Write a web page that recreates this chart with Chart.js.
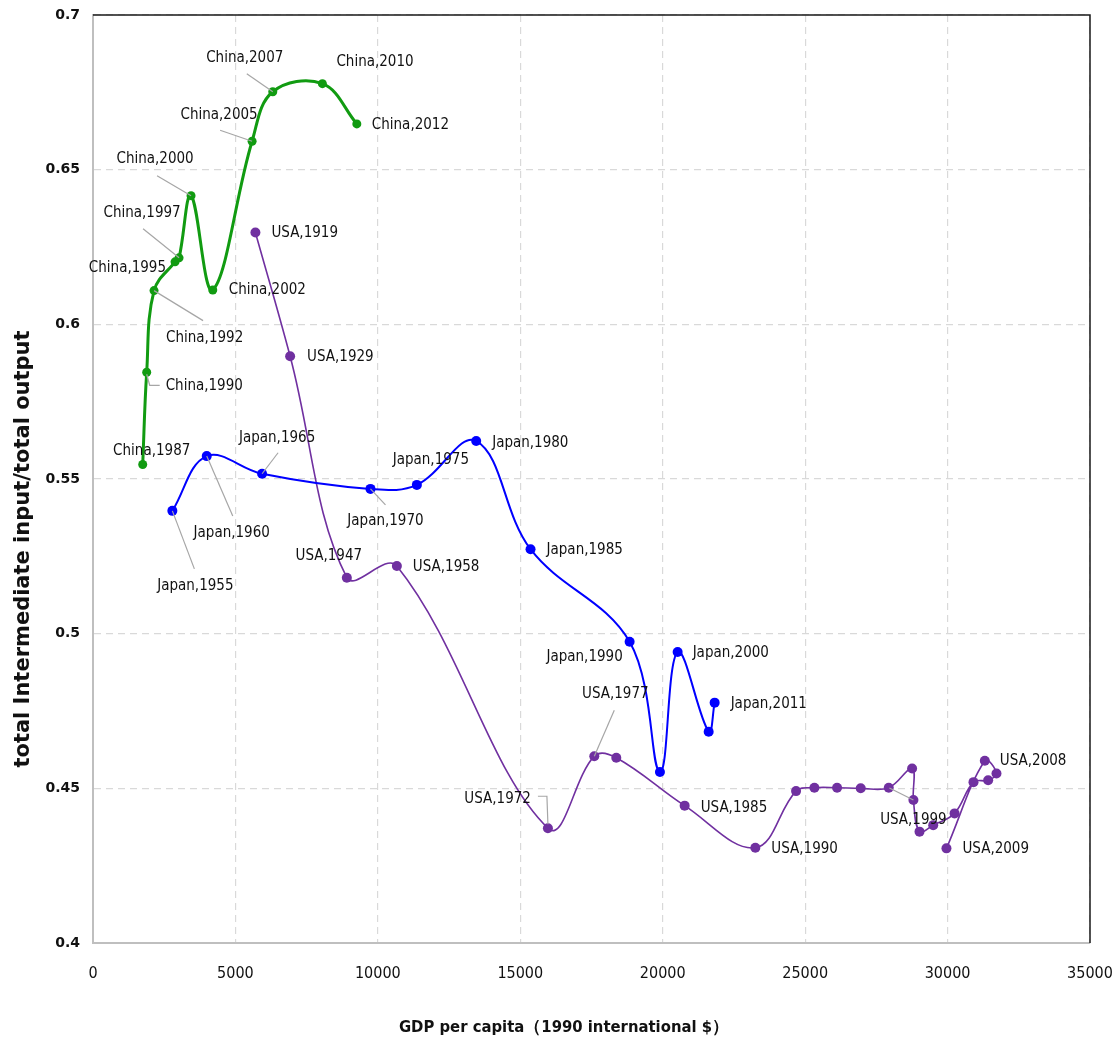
<!DOCTYPE html>
<html>
<head>
<meta charset="utf-8">
<script src="https://cdn.jsdelivr.net/npm/chart.js@4.4.1/dist/chart.umd.min.js"></script>
<style>
  html, body { margin: 0; padding: 0; background: #fff; }
</style>
</head>
<body>
<canvas id="myChart" width="1115" height="1042"></canvas>
<script>
// values: GDP per capita (1990 intl $) vs intermediate input ratio
var chinaLabels = ['1987', '1990', '1992', '1995', '1997', '2000', '2002', '2005', '2007', '2010', '2012'];
var chinaGdp = [1745, 1885, 2143, 2880, 3021, 3442, 4204, 5585, 6311, 8054, 9262];
var chinaRatio = [0.5547, 0.5845, 0.6109, 0.6202, 0.6215, 0.6416, 0.6111, 0.6592, 0.6752, 0.6778, 0.6648];

var japanLabels = ['1955', '1960', '1965', '1970', '1975', '1980', '1985', '1990', '', '2000', '', '2011'];
var japanGdp = [2786, 3993, 5936, 9741, 11369, 13452, 15360, 18838, 19903, 20524, 21613, 21823];
var japanRatio = [0.5397, 0.5574, 0.5517, 0.5468, 0.5481, 0.5623, 0.5273, 0.4974, 0.4553, 0.4941, 0.4683, 0.4777];

var usaLabels = ['1919', '1929', '1947', '1958', '1972', '1977', '', '1985', '1990', '', '', '', '', '', '', '1999',
  '', '', '', '', '', '', '2008', '2009'];
var usaGdp = [5701, 6920, 8911, 10667, 15970, 17598, 18370, 20770, 23252, 24681, 25325, 26121, 26951, 27935, 28755, 28801,
  29015, 29496, 30246, 30910, 31425, 31717, 31307, 29961];
var usaRatio = [0.6297, 0.5897, 0.5181, 0.5219, 0.4371, 0.4604, 0.4599, 0.4444, 0.4308, 0.4491, 0.4502, 0.4502, 0.4500, 0.4502, 0.4564, 0.4462,
  0.4360, 0.4381, 0.4419, 0.4520, 0.4526, 0.4548, 0.4589, 0.4306];

var xTicks = [0, 5000, 10000, 15000, 20000, 25000, 30000, 35000];
var yTicks = [0.4, 0.45, 0.5, 0.55, 0.6, 0.65, 0.7];

var xTitle = 'GDP per capita（1990 international $）';
var yTitle = 'total Intermediate input/total output';

// where each data label sits relative to its point (px), plus optional leader line
var labelPos = {
  China: {
    '1987': { dx: 9, dy: -13, align: 'center' },
    '1990': { dx: 19, dy: 14, align: 'left', leader: [[0, 2], [3, 13], [13, 13]] },
    '1992': { dx: 12, dy: 47, align: 'left', leader: [[0, 0], [49, 30]] },
    '1995': { dx: -9, dy: 6, align: 'right' },
    '1997': { dx: -37, dy: -45, align: 'center', leader: [[-36, -29], [0, 0]] },
    '2000': { dx: -36, dy: -37, align: 'center', leader: [[-34, -20], [0, 0]] },
    '2002': { dx: 16, dy: 0, align: 'left' },
    '2005': { dx: -33, dy: -26, align: 'center', leader: [[-32, -11], [0, 0]] },
    '2007': { dx: -28, dy: -34, align: 'center', leader: [[-26, -18], [0, 0]] },
    '2010': { dx: 14, dy: -22, align: 'left' },
    '2012': { dx: 15, dy: 1, align: 'left' }
  },
  Japan: {
    '1955': { dx: 23, dy: 75, align: 'center', leader: [[22, 58], [0, 0]] },
    '1960': { dx: 25, dy: 77, align: 'center', leader: [[26, 60], [0, 0]] },
    '1965': { dx: 15, dy: -36, align: 'center', leader: [[16, -21], [0, 0]] },
    '1970': { dx: 15, dy: 32, align: 'center', leader: [[15, 16], [0, 0]] },
    '1975': { dx: 14, dy: -25, align: 'center' },
    '1980': { dx: 16, dy: 2, align: 'left' },
    '1985': { dx: 16, dy: 1, align: 'left' },
    '1990': { dx: -45, dy: 15, align: 'center' },
    '2000': { dx: 15, dy: 1, align: 'left' },
    '2011': { dx: 16, dy: 1, align: 'left' }
  },
  USA: {
    '1919': { dx: 16, dy: 1, align: 'left' },
    '1929': { dx: 17, dy: 1, align: 'left' },
    '1947': { dx: -18, dy: -22, align: 'center' },
    '1958': { dx: 16, dy: 1, align: 'left' },
    '1972': { dx: -17, dy: -29, align: 'right', leader: [[-10, -32], [-1, -32], [0, -4]] },
    '1977': { dx: 21, dy: -62, align: 'center', leader: [[20, -46], [0, 0]] },
    '1985': { dx: 16, dy: 2, align: 'left' },
    '1990': { dx: 16, dy: 1, align: 'left' },
    '1999': { dx: 0, dy: 20, align: 'center', leader: [[-24, -12], [0, 0]] },
    '2008': { dx: 15, dy: 0, align: 'left' },
    '2009': { dx: 16, dy: 1, align: 'left' }
  }
};

var narrow = '"Liberation Sans Narrow", "DejaVu Sans Condensed", "Open Sans", sans-serif';
var wide = '"DejaVu Sans", Verdana, sans-serif';

function toPoints(xs, ys) {
  return xs.map(function (x, i) { return { x: x, y: ys[i] }; });
}

function makeSet(name, xs, ys, labels, color, width, radius) {
  return {
    label: name,
    data: toPoints(xs, ys),
    yearLabels: labels,
    showLine: true,
    borderColor: color,
    backgroundColor: color,
    borderWidth: width,
    pointRadius: radius,
    pointBorderWidth: 0,
    tension: 0.38
  };
}

// black frame on top and right of the plot area
var framePlugin = {
  id: 'frame',
  beforeDatasetsDraw: function (chart) {
    var a = chart.chartArea, ctx = chart.ctx;
    ctx.save();
    ctx.strokeStyle = '#1a1a1a';
    ctx.lineWidth = 1.5;
    ctx.beginPath();
    ctx.moveTo(a.left, a.top);
    ctx.lineTo(a.right, a.top);
    ctx.lineTo(a.right, a.bottom);
    ctx.stroke();
    ctx.restore();
  }
};

// axis titles sit off-centre in the original, so place them by hand
var titlePlugin = {
  id: 'axisTitles',
  afterDraw: function (chart) {
    var ctx = chart.ctx;
    ctx.save();
    ctx.fillStyle = '#111';
    ctx.textAlign = 'center';
    ctx.textBaseline = 'middle';
    ctx.font = 'bold 16.5px ' + narrow;
    ctx.fillText(xTitle, 564, 1028);
    ctx.translate(24, 549);
    ctx.rotate(-Math.PI / 2);
    ctx.font = 'bold 21px ' + wide;
    ctx.fillText(yTitle, 0, 0);
    ctx.restore();
  }
};

var pointLabelPlugin = {
  id: 'pointLabels',
  afterDatasetsDraw: function (chart) {
    var ctx = chart.ctx;
    ctx.save();
    chart.data.datasets.forEach(function (ds, di) {
      var meta = chart.getDatasetMeta(di);
      var conf = labelPos[ds.label] || {};
      ds.yearLabels.forEach(function (yr, i) {
        if (!yr || !conf[yr]) return;
        var p = meta.data[i];
        var c = conf[yr];
        if (c.leader) {
          ctx.strokeStyle = '#a6a6a6';
          ctx.lineWidth = 1.2;
          ctx.beginPath();
          c.leader.forEach(function (o, k) {
            if (k === 0) ctx.moveTo(p.x + o[0], p.y + o[1]);
            else ctx.lineTo(p.x + o[0], p.y + o[1]);
          });
          ctx.stroke();
        }
        ctx.fillStyle = '#111';
        ctx.font = '15px ' + narrow;
        ctx.textAlign = c.align;
        ctx.textBaseline = 'middle';
        ctx.fillText(ds.label + ',' + yr, p.x + c.dx, p.y + c.dy);
      });
    });
    ctx.restore();
  }
};

new Chart(document.getElementById('myChart'), {
  type: 'scatter',
  data: {
    datasets: [
      makeSet('China', chinaGdp, chinaRatio, chinaLabels, '#119b11', 3, 4.5),
      makeSet('Japan', japanGdp, japanRatio, japanLabels, '#0000ff', 2, 5),
      makeSet('USA', usaGdp, usaRatio, usaLabels, '#7030a0', 1.6, 5)
    ]
  },
  options: {
    responsive: false,
    animation: false,
    layout: { padding: { top: 15, right: 25, left: 0, bottom: 0 } },
    plugins: {
      legend: { display: false },
      tooltip: { enabled: false }
    },
    scales: {
      x: {
        type: 'linear',
        min: 0,
        max: 35000,
        afterBuildTicks: function (scale) {
          scale.ticks = xTicks.map(function (v) { return { value: v }; });
        },
        afterFit: function (scale) {
          scale.height = 99;
          scale.paddingLeft = 0;
          scale.paddingRight = 0;
        },
        ticks: {
          padding: 21,
          color: '#111',
          font: { family: narrow, size: 16 },
          callback: function (v) { return String(v); }
        },
        grid: {
          color: '#d9d9d9',
          lineWidth: 1.2,
          drawTicks: false
        },
        border: { color: '#bfbfbf', width: 2, dash: [7, 5] }
      },
      y: {
        type: 'linear',
        min: 0.4,
        max: 0.7,
        afterBuildTicks: function (scale) {
          scale.ticks = yTicks.map(function (v) { return { value: v }; });
        },
        afterFit: function (scale) {
          scale.width = 93;
          scale.paddingTop = 0;
          scale.paddingBottom = 0;
        },
        ticks: {
          padding: 13,
          color: '#111',
          font: { family: wide, size: 14, weight: 'bold' },
          callback: function (v) { return String(+v.toFixed(2)); }
        },
        grid: {
          color: '#d9d9d9',
          lineWidth: 1.2,
          drawTicks: false
        },
        border: { color: '#bfbfbf', width: 2, dash: [7, 5] }
      }
    }
  },
  plugins: [framePlugin, pointLabelPlugin, titlePlugin]
});
</script>
</body>
</html>
